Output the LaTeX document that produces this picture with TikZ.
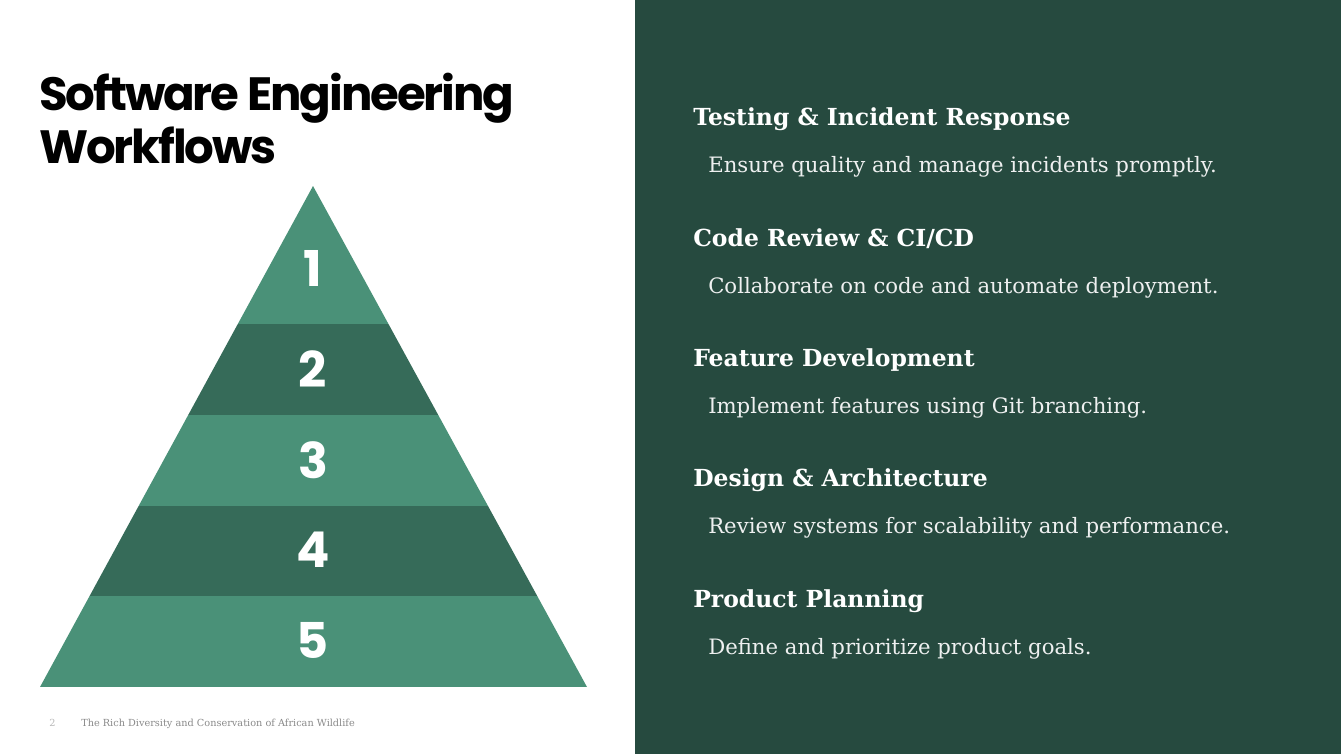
\documentclass[tikz,border=0pt]{standalone}
\usepackage{fontspec}
\usepackage{xcolor}
\usetikzlibrary{positioning}
\newfontfamily\titlefont{Poppins}[LetterSpace=-4.5]
\newfontfamily\numfont{Poppins}
\newfontfamily\slabfont{DejaVu Serif}
\definecolor{panelcol}{HTML}{264A3F}
\definecolor{bandlight}{HTML}{4A9178}
\definecolor{banddark}{HTML}{366B59}
\definecolor{footcol}{HTML}{8A8A8A}

\begin{document}
\begin{tikzpicture}[
  x=0.75pt, y=-0.75pt,
  titletxt/.style={font=\titlefont\bfseries\fontsize{35}{40}\selectfont, anchor=base west, inner sep=0pt},
  heading/.style={font=\slabfont\bfseries\fontsize{17.6}{22}\selectfont, text=white, anchor=base west, inner sep=0pt},
  descr/.style={font=\slabfont\fontsize{15.9}{19}\selectfont, text=white!92!panelcol, anchor=base west, inner sep=0pt},
  num/.style={font=\numfont\bfseries\fontsize{37}{40}\selectfont, text=white, inner sep=0pt}
]
  \useasboundingbox (0,0) rectangle (1341,754);
  \fill[white] (0,0) rectangle (1341,754);
  \fill[panelcol] (635,0) rectangle (1341,754);

  % title
  \node[titletxt] (title) at (39,110) {Software Engineering};
  \node[titletxt] (title2) at (39,163) {Workflows};

  % pyramid
  \begin{scope}
    \clip (313,186) -- (587,687) -- (40,687) -- cycle;
    \foreach \top/\bot/\col in {186/324/bandlight, 324/415/banddark, 415/506/bandlight,
                                506/596/banddark, 596/687/bandlight}
      \fill[\col] (30,\top) rectangle (600,\bot);
  \end{scope}
  \foreach \Y/\lab in {286/1, 387/2, 478/3, 567/4, 658/5}
    \node[num, anchor=base] (n\lab) at (313,\Y) {\lab};

  % right panel
  \foreach \Y/\head/\txt [count=\i] in {
      125/{Testing \& Incident Response}/{Ensure quality and manage incidents promptly.},
      246/{Code Review \& CI/CD}/{Collaborate on code and automate deployment.},
      366/{Feature Development}/{Implement features using Git branching.},
      486/{Design \& Architecture}/{Review systems for scalability and performance.},
      607/{Product Planning}/{Define and prioritize product goals.}} {
    \node[heading] (h\i) at (693,\Y) {\head};
    \node[descr] (d\i) at (708,\Y+47) {\txt};
  }

  % footer
  \node[font=\slabfont\fontsize{7.3}{8}\selectfont, text=footcol!60, anchor=base west, inner sep=0pt]
    (page) at (49,726) {2};
  \node[font=\slabfont\fontsize{7.3}{8}\selectfont, text=footcol, anchor=base west, inner sep=0pt]
    (foot) at (81,726) {The Rich Diversity and Conservation of African Wildlife};
\end{tikzpicture}
\end{document}
